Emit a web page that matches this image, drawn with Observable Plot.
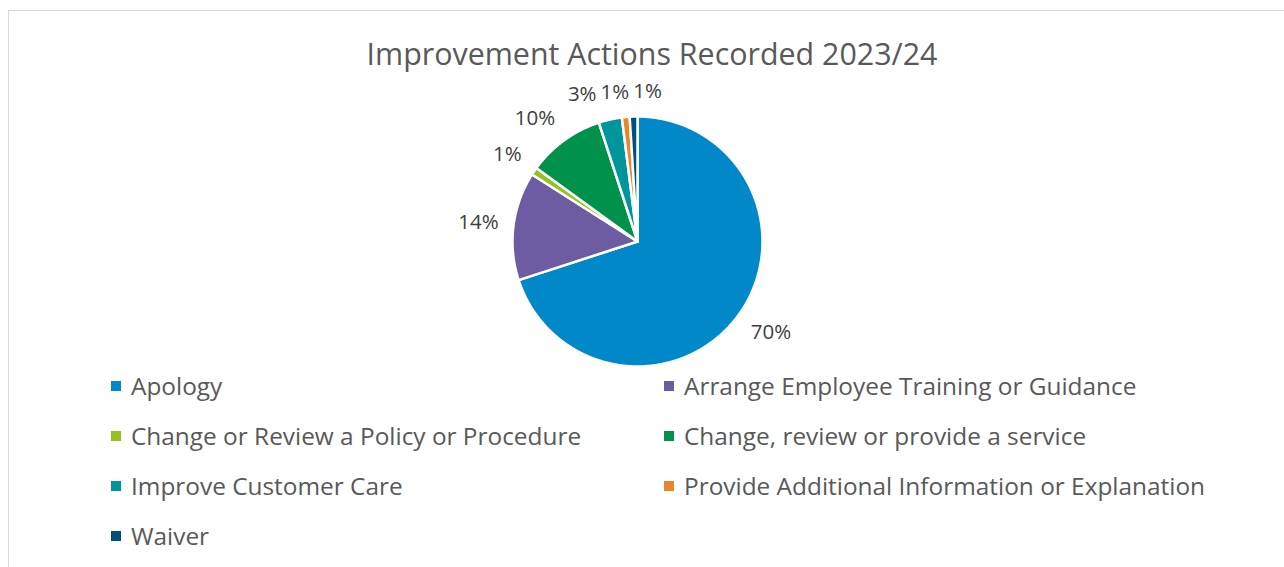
<!DOCTYPE html>
<html><head><meta charset="utf-8">
<script src="https://cdn.jsdelivr.net/npm/d3@7"></script>
<script src="https://cdn.jsdelivr.net/npm/@observablehq/plot@0.6"></script>
<style>
html,body{margin:0;padding:0;width:1284px;height:567px;overflow:hidden;background:#fff;font-family:"Open Sans",Lato,sans-serif}
#frame{position:absolute;left:8px;top:10px;width:1300px;height:600px;border:1.5px solid #d9d9d9;box-sizing:border-box}
#chart{position:absolute;left:0;top:0}
#title{position:absolute;left:20px;width:1264px;top:36px;text-align:center;font-size:30.4px;line-height:36px;color:#595959;white-space:nowrap}
.item{position:absolute;display:flex;align-items:center;font-size:24.4px;line-height:30px;height:30px;color:#595959;white-space:nowrap}
.sw{width:10px;height:10px;margin-right:10px;flex:none}
</style></head><body>
<div id="frame"></div>
<div id="chart"></div>
<div id="title">Improvement Actions Recorded 2023/24</div>
<div id="legend"></div>
<script>
const categories = [
  "Apology",
  "Arrange Employee Training or Guidance",
  "Change or Review a Policy or Procedure",
  "Change, review or provide a service",
  "Improve Customer Care",
  "Provide Additional Information or Explanation",
  "Waiver"
];
const percents = [70, 14, 1, 10, 3, 1, 1];
const labels = ["70%", "14%", "1%", "10%", "3%", "1%", "1%"];
const colors = ["#0088C8", "#6E5CA3", "#96C11F", "#00924A", "#00959A", "#E8862A", "#00507C"];

// layout
const W = 1284, H = 567, cx = 637, cy = 241, R = 125;
const labelFont = 20.5;

const arcs = d3.pie().sort(null).value(d => d)(percents);

// slice polygons in unit-circle coordinates (y downward)
const slicePts = [];
arcs.forEach((a, i) => {
  const n = Math.max(2, Math.ceil((a.endAngle - a.startAngle) / (Math.PI / 360)));
  slicePts.push({cat: categories[i], x: 0, y: 0});
  for (let k = 0; k <= n; k++) {
    const t = a.startAngle + (a.endAngle - a.startAngle) * k / n;
    slicePts.push({cat: categories[i], x: Math.sin(t), y: -Math.cos(t)});
  }
  slicePts.push({cat: categories[i], x: 0, y: 0});
});

// label placement (outside end, with simple collision avoidance)
const ctx = document.createElement("canvas").getContext("2d");
ctx.font = `${labelFont}px "Open Sans"`;
const clamp = v => Math.max(-1, Math.min(1, v));
const lab = arcs.map((a, i) => {
  const m = (a.startAngle + a.endAngle) / 2;
  const s = Math.sin(m), c = -Math.cos(m);
  const d = 1 + 15 / R;
  const w = ctx.measureText(labels[i]).width / R, h = 20 / R;
  return {
    text: labels[i],
    x: d * s + clamp(s * 4) * w / 2,
    y: d * c + clamp(c * 1.5) * h / 2,
    w, h
  };
});
const pad = 4 / R;
for (let it = 0; it < 200; it++) {
  for (let i = 0; i < lab.length; i++) for (let j = i + 1; j < lab.length; j++) {
    const A = lab[i], B = lab[j];
    const dx = B.x - A.x, dy = B.y - A.y;
    const need = (A.w + B.w) / 2 + pad;
    if (Math.abs(dx) < need && Math.abs(dy) < (A.h + B.h) / 2) {
      const push = (need - Math.abs(dx)) / 2;
      const sgn = dx >= 0 ? 1 : -1;
      A.x -= sgn * push; B.x += sgn * push;
    }
  }
}

const chart = Plot.plot({
  width: W, height: H,
  margin: 0,
  x: {domain: [-cx / R, (W - cx) / R], range: [0, W], axis: null},
  y: {domain: [-cy / R, (H - cy) / R], range: [0, H], axis: null},
  color: {domain: categories, range: colors},
  style: {background: "transparent", overflow: "visible"},
  marks: [
    Plot.line(slicePts, {x: "x", y: "y", z: "cat", fill: "cat", stroke: "#ffffff", strokeWidth: 2.5, strokeLinejoin: "round", curve: "linear"}),
    Plot.text(lab, {x: "x", y: "y", text: "text", fill: "#404040", fontSize: labelFont, fontFamily: "Open Sans", textAnchor: "middle", lineAnchor: "middle"})
  ]
});
document.getElementById("chart").appendChild(chart);

// legend
const legend = document.getElementById("legend");
const colLeft = [111, 664], rowTop = 371, rowStep = 50;
categories.forEach((c, i) => {
  const el = document.createElement("div");
  el.className = "item";
  el.style.left = colLeft[i % 2] + "px";
  el.style.top = (rowTop + Math.floor(i / 2) * rowStep) + "px";
  const sw = document.createElement("span");
  sw.className = "sw"; sw.style.background = colors[i];
  const tx = document.createElement("span");
  tx.textContent = c;
  el.appendChild(sw); el.appendChild(tx);
  legend.appendChild(el);
});
</script>
</body></html>
